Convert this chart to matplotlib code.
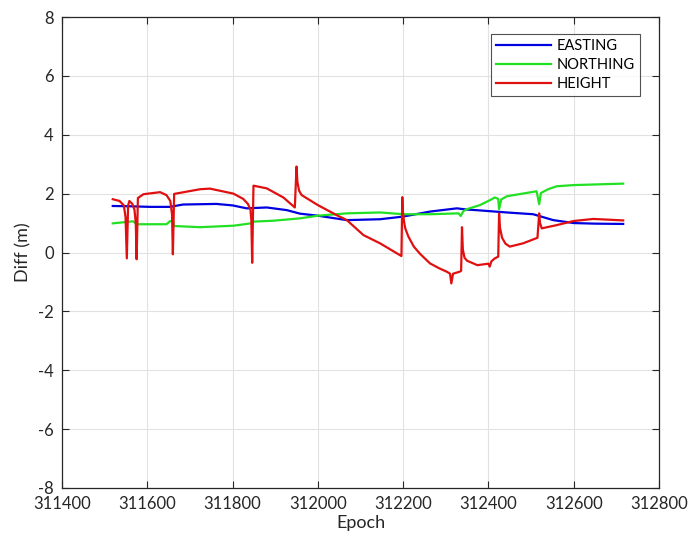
import matplotlib
matplotlib.use("Agg")
import matplotlib.pyplot as plt

plt.rcParams['font.family'] = ['Lato', 'DejaVu Sans']

# EASTING
e_x = [311519, 311560, 311606, 311653, 311684, 311762, 311800, 311833, 311880,
       311927, 311958, 312000, 312068, 312146, 312200, 312263, 312326, 312349,
       312380, 312443, 312505, 312552, 312600, 312650, 312716]
e_y = [1.58, 1.57, 1.55, 1.55, 1.63, 1.65, 1.60, 1.50, 1.53,
       1.44, 1.32, 1.25, 1.10, 1.13, 1.22, 1.39, 1.50, 1.46,
       1.43, 1.36, 1.30, 1.10, 1.00, 0.98, 0.97]

# NORTHING
n_x = [311519, 311567, 311575, 311645, 311653, 311660, 311663, 311724, 311802,
       311833, 311846, 311850, 311896, 311958, 312000, 312068, 312146, 312200,
       312263, 312330, 312335, 312341, 312349, 312380, 312404, 312415, 312423,
       312425, 312430, 312443, 312513, 312519, 312523, 312540, 312560, 312600,
       312716]
n_y = [0.99, 1.06, 0.96, 0.96, 1.06, 1.08, 0.90, 0.86, 0.91,
       0.97, 1.00, 1.05, 1.08, 1.16, 1.25, 1.33, 1.36, 1.30,
       1.30, 1.33, 1.24, 1.40, 1.47, 1.61, 1.78, 1.87, 1.82,
       1.47, 1.80, 1.91, 2.08, 1.64, 2.02, 2.15, 2.25, 2.29,
       2.34]

# HEIGHT
h_x = [311519, 311535, 311545, 311549, 311552, 311555, 311558, 311565, 311570,
       311573, 311575, 311578, 311591, 311630, 311645, 311654, 311658, 311660,
       311663, 311724, 311747, 311802, 311825, 311836, 311842, 311844, 311846,
       311849, 311880, 311919, 311946, 311950, 311952, 311956, 311962, 312000,
       312044, 312068, 312107, 312146, 312196, 312198, 312199, 312202, 312205,
       312212, 312225, 312240, 312263, 312285, 312302, 312310, 312313, 312317,
       312333, 312336, 312338, 312340, 312344, 312350, 312374, 312400, 312403,
       312407, 312415, 312423, 312425, 312427, 312432, 312440, 312450, 312481,
       312515, 312519, 312521, 312525, 312560, 312600, 312646, 312716]
h_y = [1.81, 1.75, 1.60, 1.20, -0.20, 1.60, 1.75, 1.65, 1.45,
       1.00, -0.23, 1.85, 1.98, 2.05, 1.95, 1.75, 1.30, -0.06,
       1.99, 2.15, 2.17, 2.00, 1.82, 1.65, 1.45, 1.10, -0.35,
       2.27, 2.18, 1.87, 1.53, 2.92, 2.40, 2.10, 1.95, 1.61,
       1.27, 1.10, 0.59, 0.31, -0.12, 1.88, 1.45, 1.05, 0.82,
       0.55, 0.20, -0.05, -0.37, -0.54, -0.65, -0.72, -1.05, -0.72,
       -0.65, -0.62, 0.86, 0.10, -0.18, -0.28, -0.43, -0.38, -0.48,
       -0.30, -0.20, -0.14, 1.33, 0.85, 0.50, 0.30, 0.20, 0.31,
       0.50, 1.33, 1.00, 0.82, 0.93, 1.07, 1.14, 1.09]

x_ticks = [311400, 311600, 311800, 312000, 312200, 312400, 312600, 312800]
y_ticks = [-8, -6, -4, -2, 0, 2, 4, 6, 8]

fig = plt.figure(figsize=(6.89, 5.37), dpi=100)
ax = fig.add_axes([62/689, 49/537, 597/689, 471/537])

ax.plot(e_x, e_y, color='#0000e0', lw=1.6, label='EASTING')
ax.plot(n_x, n_y, color='#22e022', lw=1.6, label='NORTHING')
ax.plot(h_x, h_y, color='#e01010', lw=1.6, label='HEIGHT')

ax.set_xlim(311400, 312800)
ax.set_ylim(-8, 8)
ax.set_xticks(x_ticks)
ax.set_xticklabels([str(t) for t in x_ticks])
ax.set_yticks(y_ticks)
ax.set_yticklabels([str(t) for t in y_ticks])
ax.grid(True, color='#e2e2e2', lw=0.8)
ax.set_axisbelow(True)
ax.tick_params(direction='in', top=True, right=True, labelsize=12,
               colors='#262626', length=5, width=0.8, pad=6)
for s in ax.spines.values():
    s.set_color('#262626')
    s.set_linewidth(0.9)
ax.set_xlabel('Epoch', fontsize=13, color='#262626', labelpad=2)
ax.set_ylabel('Diff (m)', fontsize=13, color='#262626', labelpad=5)

leg = ax.legend(loc='upper right', bbox_to_anchor=(0.968, 0.964), fontsize=10.5,
                frameon=True, fancybox=False, handlelength=3.75,
                borderpad=0.38, labelspacing=0.32, handletextpad=0.35,
                borderaxespad=0)
leg.get_frame().set_edgecolor('#262626')
leg.get_frame().set_linewidth(0.8)

fig.savefig('out.png', dpi=100)
